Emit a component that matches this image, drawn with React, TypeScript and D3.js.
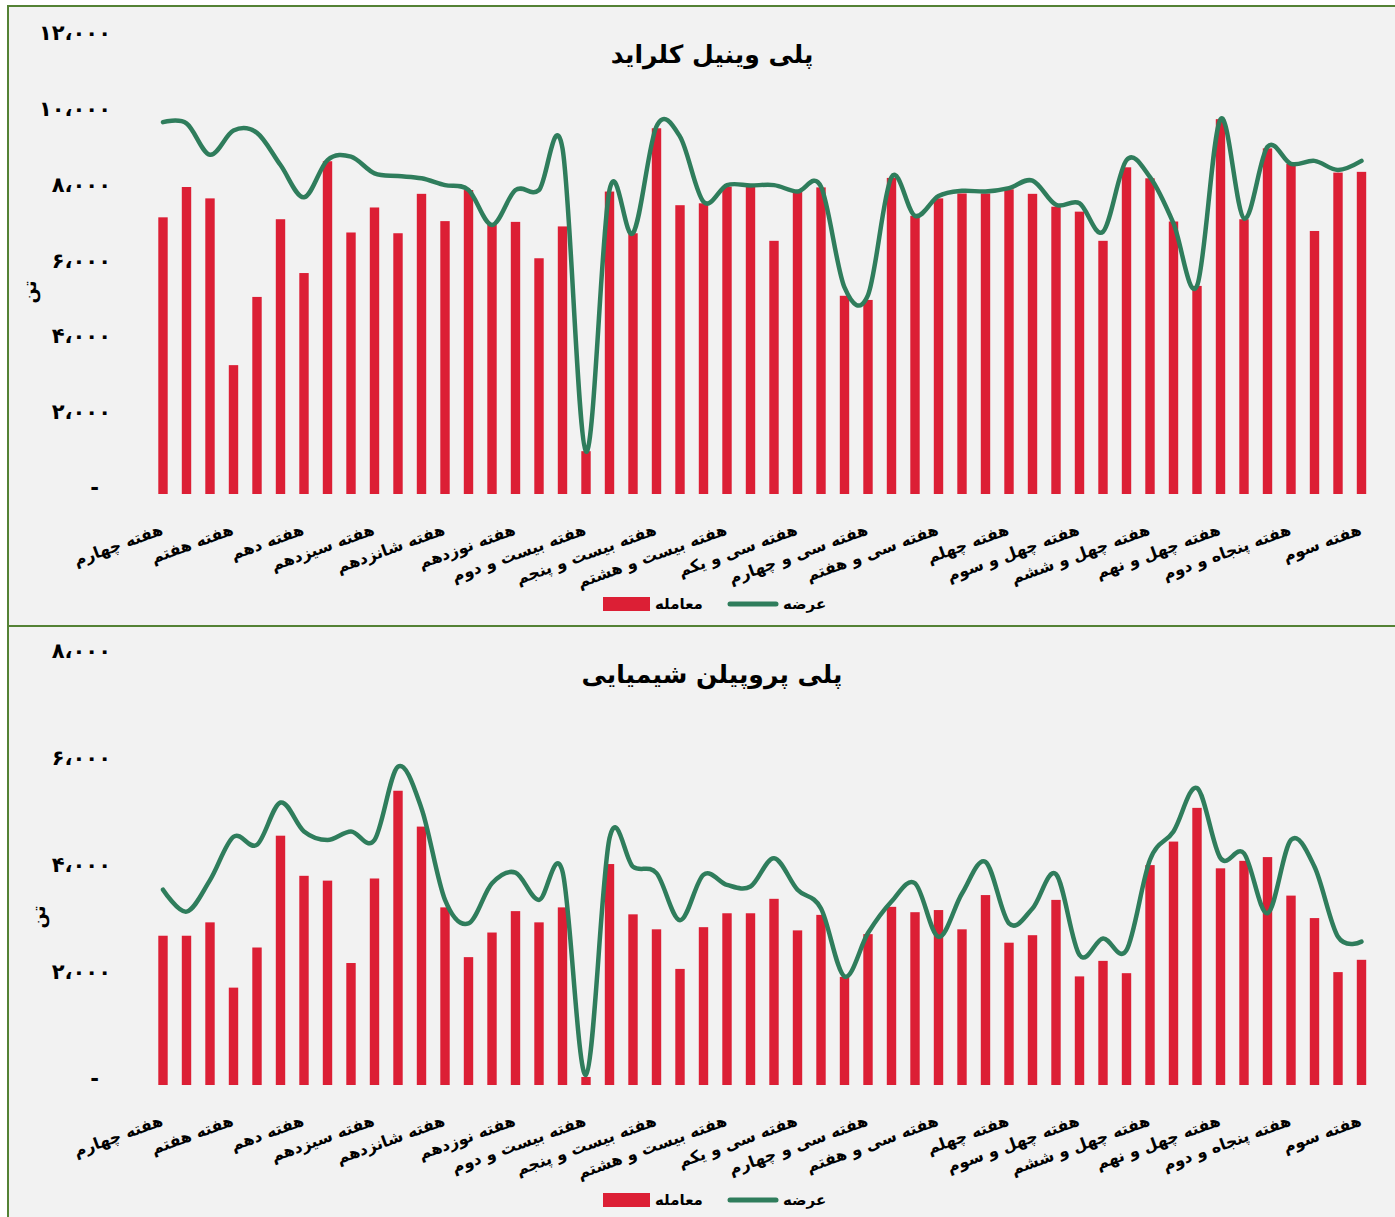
import * as d3 from 'd3';

// categories: week numbers (week 4 of the year through week 3 of the next)
const weekNumbers = [
  4, 5, 6, 7, 8, 9, 10, 11, 12, 13, 14, 15, 16, 17, 18, 19, 20, 21, 22, 23, 24, 25, 26, 27, 28, 29,
  30, 31, 32, 33, 34, 35, 36, 37, 38, 39, 40, 41, 42, 43, 44, 45, 46, 47, 48, 49, 50, 51, 52, 1, 2, 3,
];

// labels shown under every third week
const weekLabels = [
  'هفته چهارم', 'هفته هفتم', 'هفته دهم', 'هفته سیزدهم', 'هفته شانزدهم', 'هفته نوزدهم',
  'هفته بیست و دوم', 'هفته بیست و پنجم', 'هفته بیست و هشتم', 'هفته سی و یکم', 'هفته سی و چهارم',
  'هفته سی و هفتم', 'هفته چهلم', 'هفته چهل و سوم', 'هفته چهل و ششم', 'هفته چهل و نهم',
  'هفته پنجاه و دوم', 'هفته سوم',
];

const pvcDeal = [
  7300, 8100, 7800, 3400, 5200, 7250, 5830, 8780, 6900, 7560, 6880, 7920, 7200, 8020, 7100, 7180, 6220, 7060, 1130, 7980,
  6880, 9650, 7620, 7670, 8110, 8130, 6680, 7980, 8090, 5230, 5120, 8340, 7340, 7800, 7930, 7930, 8040, 7920, 7580, 7450, 6680,
  8620, 8330, 7190, 5490, 9890, 7250, 9120, 8710, 6940, 8480, 8500,
];
const pvcSupply = [
  9810, 9780, 8950, 9590, 9530, 8680, 7830, 8810, 8900, 8460, 8390, 8330, 8150, 8020, 7100, 8020, 8020, 9120, 1120, 8020,
  6880, 9700, 9430, 7710, 8150, 8140, 8150, 7980, 8110, 5450, 5250, 8360, 7340, 7860, 8000, 7980, 8070, 8270, 7630, 7670, 6920,
  8810, 8360, 7140, 5490, 9890, 7270, 9160, 8710, 8790, 8550, 8790,
];

const ppDeal = [
  2790, 2790, 3040, 1820, 2570, 4660, 3910, 3820, 2280, 3860, 5500, 4830, 3320, 2390, 2850, 3250, 3040, 3320, 150, 4130,
  3190, 2910, 2170, 2950, 3210, 3210, 3480, 2890, 3180, 2020, 2820, 3330, 3230, 3270, 2910, 3550, 2660, 2800, 3460, 2030, 2320,
  2090, 4110, 4550, 5180, 4050, 4190, 4260, 3540, 3120, 2110, 2340,
];
const ppSupply = [
  3650, 3240, 3830, 4640, 4490, 5280, 4740, 4580, 4740, 4580, 5950, 5170, 3460, 3020, 3770, 3970, 3460, 3990, 190, 4610,
  4080, 3960, 3080, 3930, 3740, 3710, 4240, 3650, 3300, 2030, 2840, 3430, 3770, 2770, 3580, 4170, 3020, 3300, 3940, 2430, 2740,
  2520, 4210, 4740, 5550, 4240, 4330, 3210, 4580, 4080, 2770, 2680,
];

const pvcTicks = [0, 2000, 4000, 6000, 8000, 10000, 12000];
const ppTicks = [0, 2000, 4000, 6000, 8000];

const pvcTitle = 'پلی وینیل کلراید';
const ppTitle = 'پلی پروپیلن شیمیایی';
const dealName = 'معامله';
const supplyName = 'عرضه';
const unitName = 'تن';

const RED = '#dc1f35';
const GREEN = '#2f7d5c';
const FONT = '"DejaVu Sans", sans-serif';

const faDigits = '۰۱۲۳۴۵۶۷۸۹';
const fmtTick = (v: number) =>
  v === 0 ? '-' : d3.format(',')(v).replace(/\d/g, d => faDigits[+d]).replace(/,/g, '،');

interface PanelProps {
  y0: number;
  h: number;
  title: string;
  deal: number[];
  supply: number[];
  ticks: number[];
  plotTop: number;
  plotBottom: number;
  legendY: number;
  unitX: number;
  unitY: number;
}

const x = d3.scaleBand<number>()
  .domain(d3.range(weekNumbers.length))
  .range([151.25, 1373.25])
  .paddingInner(0.6)
  .paddingOuter(0.3);

const Panel = ({ y0, h, title, deal, supply, ticks, plotTop, plotBottom, legendY, unitX, unitY }: PanelProps) => {
  const y = d3.scaleLinear()
    .domain([0, ticks[ticks.length - 1]])
    .range([plotBottom, plotTop]);

  const cx = (i: number) => (x(i) || 0) + x.bandwidth() / 2;
  const line = d3.line<number>()
    .x((_, i) => cx(i))
    .y(d => y(d))
    .curve(d3.curveCardinal.tension(0));

  return (
    <g>
      <rect x={8} y={y0} width={1400} height={h} fill="#f2f2f2" stroke="#548235" strokeWidth={2} />
      <text x={712} y={y0 + 57} textAnchor="middle" fontFamily={FONT} fontWeight="bold" fontSize={25} fill="#000">
        {title}
      </text>

      {/* y axis */}
      {ticks.map(t => (
        <text key={t} x={t === 0 ? 99 : 111} y={y(t) - 5} textAnchor="end" dominantBaseline="middle"
          fontFamily={FONT} fontWeight="bold" fontSize={21} letterSpacing={t === 0 ? 0 : 5} fill="#000">
          {fmtTick(t)}
        </text>
      ))}
      <text transform={`translate(${unitX},${unitY}) rotate(-90)`} textAnchor="middle"
        dominantBaseline="middle" fontFamily={FONT} fontWeight="bold" fontSize={18} fill="#000">
        {unitName}
      </text>

      {/* bars */}
      {deal.map((d, i) => (
        <rect key={i} x={x(i)} y={y(d)} width={x.bandwidth()} height={plotBottom - y(d)} fill={RED} />
      ))}

      {/* supply line */}
      <path d={line(supply) || ''} fill="none" stroke={GREEN} strokeWidth={4.5} strokeLinecap="round" strokeLinejoin="round" />

      {/* category labels, every third week */}
      {weekLabels.map((lab, k) => (
        <text key={k} transform={`translate(${cx(k * 3) + 1},${plotBottom + 40}) rotate(-20)`}
          textAnchor="end" fontFamily={FONT} fontWeight="bold" fontSize={16} fill="#000">
          {lab}
        </text>
      ))}

      {/* legend */}
      <rect x={603} y={legendY - 7} width={47} height={14} fill={RED} />
      <text x={655} y={legendY} dominantBaseline="middle" fontFamily={FONT} fontWeight="bold" fontSize={15} fill="#000">
        {dealName}
      </text>
      <line x1={730} x2={776} y1={legendY} y2={legendY} stroke={GREEN} strokeWidth={5} strokeLinecap="round" />
      <text x={783} y={legendY} dominantBaseline="middle" fontFamily={FONT} fontWeight="bold" fontSize={15} fill="#000">
        {supplyName}
      </text>
    </g>
  );
};

const App = () => (
  <svg width={1395} height={1217} style={{ position: 'absolute', left: 0, top: 0, background: '#fff' }}>
    <Panel y0={6} h={620} title={pvcTitle} deal={pvcDeal} supply={pvcSupply} ticks={pvcTicks}
      plotTop={39.2} plotBottom={494} legendY={604} unitX={31} unitY={292} />
    <Panel y0={626} h={600} title={ppTitle} deal={ppDeal} supply={ppSupply} ticks={ppTicks}
      plotTop={657} plotBottom={1085} legendY={1200} unitX={40} unitY={917} />
  </svg>
);

export default App;
